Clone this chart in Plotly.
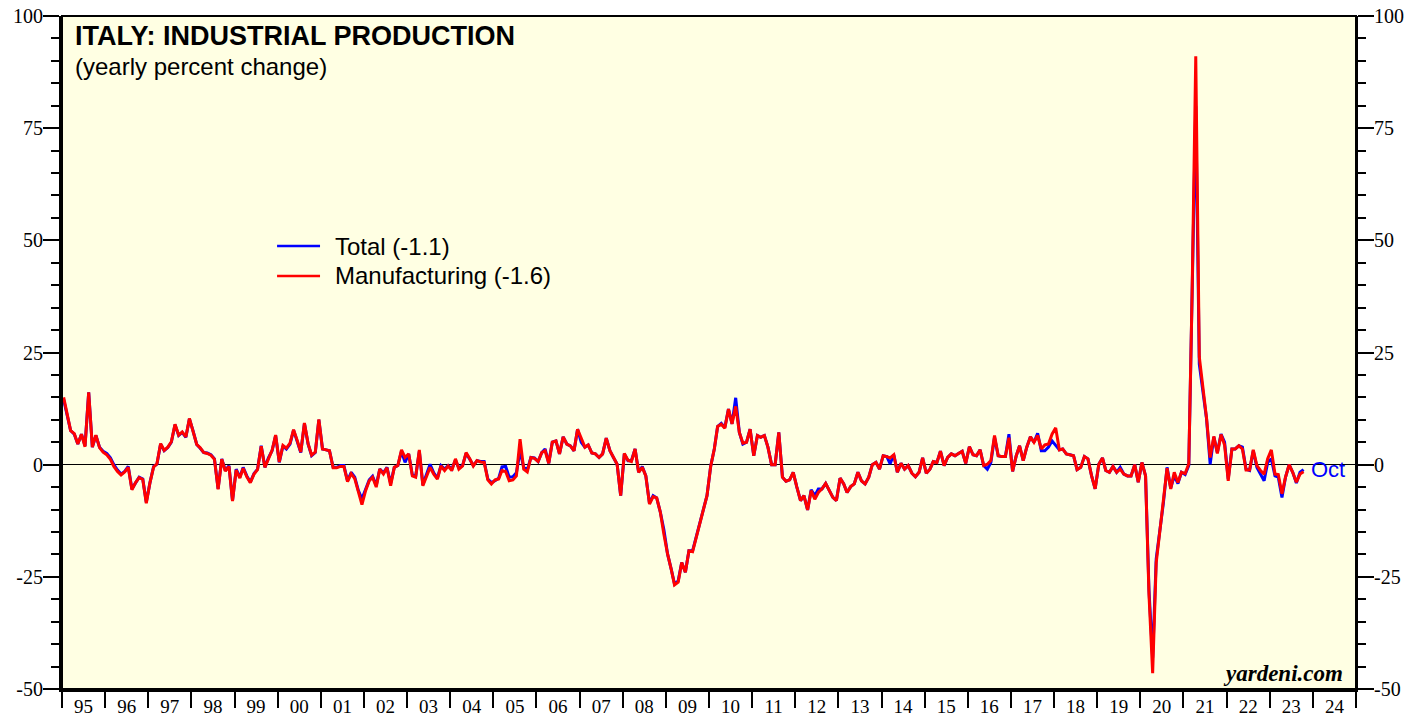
import pandas as pd
import plotly.graph_objects as go

# ---------------- data (yearly percent change, monthly, Jan 1995 - Oct 2023) -------------
total = [
    14.5, 10.5, 7.6, 6.8, 4.6, 6.8, 4.2, 16.1, 3.9, 6.5, 3.9, 3.0,        # 1995
    2.5, 1.5, 0.0, -1.2, -2.1, -1.5, -0.4, -5.4, -4.0, -2.8, -3.2, -8.4,   # 1996
    -4.0, -0.4, 0.1, 4.6, 3.1, 3.8, 5.0, 8.9, 6.5, 7.2, 6.1, 10.2,         # 1997
    7.5, 4.5, 3.7, 2.7, 2.6, 2.2, 1.3, -5.4, 1.3, -1.3, -0.2, -8.0,        # 1998
    -1.0, -2.8, -0.6, -2.5, -3.9, -2.0, -1.0, 4.2, -0.6, 1.5, 3.1, 6.5,    # 1999
    0.5, 4.2, 3.5, 4.6, 7.7, 5.3, 2.7, 9.2, 4.6, 2.0, 2.7, 10.0,           # 2000
    3.5, 3.3, 3.1, -0.6, -0.6, -0.2, -0.2, -3.6, -1.7, -2.8, -5.8, -7.6,   # 2001
    -5.5, -3.4, -2.6, -4.6, -1.0, -1.8, -0.6, -4.2, -0.6, -0.2, 3.0, 0.5,  # 2002
    2.4, -2.3, -2.6, 3.0, -4.5, -2.3, 0.1, -1.8, -3.0, -0.2, -1.0, -0.2,   # 2003
    -1.0, 1.0, -0.8, -0.2, 2.5, 1.2, -0.2, 0.9, 0.7, 0.7, -3.2, -4.0,      # 2004
    -3.6, -3.0, -0.5, -0.4, -2.8, -2.7, -1.8, 3.0, -0.6, -1.2, 1.6, 1.5,   # 2005
    0.7, 2.7, 3.5, 0.3, 5.0, 5.3, 2.4, 6.2, 4.6, 4.2, 3.1, 7.9,            # 2006
    5.0, 3.9, 4.4, 2.6, 2.4, 1.6, 2.4, 5.9, 3.1, 1.6, 0.1, -6.9,           # 2007
    2.4, 0.9, 0.9, 3.5, -1.7, -0.4, -2.5, -8.6, -6.9, -7.4, -10.6, -14.5,  # 2008
    -19.9, -23.3, -26.6, -25.9, -21.8, -24.0, -19.2, -19.2, -16.2, -13.2, -10.3, -6.9,  # 2009
    -0.4, 3.5, 8.5, 9.2, 8.3, 12.4, 9.1, 14.9, 7.2, 4.6, 5.0, 7.9,         # 2010
    2.0, 6.5, 6.1, 6.5, 3.9, 0.0, 0.0, 7.2, -2.8, -3.7, -3.4, -1.7,        # 2011
    -5.0, -8.0, -6.9, -10.1, -5.6, -6.9, -5.4, -5.4, -4.2, -5.8, -7.3, -8.0,  # 2012
    -3.0, -4.3, -6.2, -4.9, -4.3, -1.7, -3.6, -4.3, -2.8, 0.0, 0.5, -1.0,  # 2013
    2.0, 1.8, 0.2, 2.2, -1.7, 0.3, -1.0, -0.2, -1.9, -2.7, -1.7, 1.5,      # 2014
    -1.9, -1.0, 0.7, 0.5, 3.0, -0.2, 1.6, 2.4, 2.0, 2.5, 3.0, 0.3,         # 2015
    4.0, 2.2, 2.0, 3.3, -0.2, -1.0, 0.5, 6.1, 2.0, 1.8, 1.8, 6.8,          # 2016
    -1.5, 2.0, 4.2, 0.9, 3.9, 6.2, 5.0, 7.0, 3.1, 3.1, 3.9, 5.3,           # 2017
    4.2, 3.3, 3.5, 2.4, 2.2, 2.0, -1.1, -0.6, 1.8, 1.3, -2.5, -5.4,        # 2018
    0.1, 1.5, -1.3, -1.7, -0.4, -1.7, -0.6, -2.1, -2.5, -2.5, 0.0, -3.9,   # 2019
    0.5, -2.5, -28.0, -43.0, -21.0, -14.5, -8.5, -0.6, -5.2, -2.5, -4.2, -1.7,  # 2020
    -2.2, -0.2, 35.0, 80.0, 22.4, 16.0, 10.3, 0.1, 6.2, 2.7, 6.8, 5.0,     # 2021
    -3.2, 3.5, 3.5, 4.2, 3.9, -1.0, -1.3, 3.1, -0.6, -2.1, -3.6, 0.5,      # 2022
    1.3, -2.5, -2.8, -7.3, -2.8, 0.0, -1.7, -4.1, -1.7, -1.1,              # 2023
]

manufacturing = [
    15.0, 10.8, 7.6, 6.9, 4.6, 6.8, 4.0, 16.1, 3.9, 6.6, 3.8, 2.8,        # 1995
    2.2, 1.2, -0.4, -1.5, -2.3, -1.6, -0.6, -5.6, -4.0, -2.9, -3.3, -8.6,  # 1996
    -4.0, -0.5, 0.2, 4.7, 3.2, 3.9, 5.1, 9.0, 6.6, 7.3, 6.2, 10.3,         # 1997
    7.6, 4.5, 3.8, 2.7, 2.5, 2.1, 1.2, -5.5, 1.2, -1.4, -0.4, -8.1,        # 1998
    -1.2, -3.0, -0.8, -2.7, -4.0, -2.1, -1.1, 4.1, -0.6, 1.5, 3.2, 6.6,    # 1999
    0.6, 4.3, 3.7, 4.8, 7.8, 5.4, 2.8, 9.3, 4.7, 2.1, 2.8, 10.1,           # 2000
    3.5, 3.3, 3.1, -0.7, -0.7, -0.4, -0.4, -3.8, -2.0, -3.1, -6.2, -8.9,   # 2001
    -5.8, -3.6, -2.8, -5.0, -1.0, -2.1, -0.7, -4.7, -0.6, -0.2, 3.3, 1.6,  # 2002
    2.4, -2.5, -2.8, 3.3, -4.7, -2.5, -0.6, -2.1, -3.2, -0.3, -1.3, -0.3,  # 2003
    -1.3, 1.3, -1.0, -0.3, 2.7, 1.3, -0.3, 0.9, 0.6, 0.5, -3.4, -4.3,      # 2004
    -3.4, -3.2, -1.3, -1.5, -3.6, -3.4, -2.5, 5.7, -1.0, -1.6, 1.6, 1.4,   # 2005
    0.7, 2.7, 3.1, 0.3, 5.0, 5.3, 2.4, 6.2, 4.6, 4.2, 3.1, 7.9,            # 2006
    5.7, 3.9, 4.4, 2.6, 2.4, 1.6, 2.4, 5.9, 3.1, 1.6, 0.1, -6.9,           # 2007
    2.5, 1.0, 0.7, 3.5, -1.7, -0.6, -2.5, -8.8, -7.1, -7.4, -10.6, -15.5,  # 2008
    -19.9, -23.3, -26.8, -26.2, -21.8, -24.0, -19.2, -19.4, -16.2, -13.2, -10.3, -6.9,  # 2009
    -0.4, 3.5, 8.5, 9.0, 8.1, 12.4, 9.1, 13.0, 7.2, 4.8, 5.0, 7.9,         # 2010
    2.0, 6.5, 6.1, 6.5, 3.9, 0.0, 0.0, 7.2, -2.8, -3.7, -3.4, -1.7,        # 2011
    -5.0, -8.0, -6.9, -10.1, -5.8, -7.7, -6.2, -5.4, -4.2, -5.8, -7.3, -8.0,  # 2012
    -3.0, -4.3, -6.2, -4.9, -4.3, -1.7, -3.6, -4.3, -2.8, 0.0, 0.5, -1.0,  # 2013
    2.0, 1.8, 1.5, 2.2, -1.7, 0.3, -1.0, -0.2, -1.9, -2.7, -1.7, 1.5,      # 2014
    -1.9, -1.0, 0.7, 0.5, 3.0, -0.2, 1.6, 2.4, 2.0, 2.5, 3.0, 0.3,         # 2015
    4.0, 2.2, 2.0, 3.3, -0.2, 0.1, 0.9, 6.5, 2.0, 1.8, 1.8, 6.0,           # 2016
    -1.5, 2.0, 4.2, 0.9, 3.9, 6.2, 5.0, 6.5, 3.5, 4.4, 4.6, 6.8,           # 2017
    8.2, 3.3, 3.5, 2.4, 2.2, 2.0, -1.1, -0.6, 1.8, 1.3, -2.5, -5.4,        # 2018
    0.1, 1.5, -1.3, -1.7, -0.4, -1.7, -1.0, -2.1, -2.5, -2.5, 0.0, -3.9,   # 2019
    0.5, -2.5, -29.0, -46.5, -21.9, -14.7, -8.7, -0.8, -5.4, -1.7, -4.0, -1.7,  # 2020
    -2.0, 0.2, 38.0, 91.0, 24.0, 17.0, 10.5, 1.6, 6.3, 2.5, 6.7, 4.4,      # 2021
    -3.6, 3.5, 3.5, 4.2, 3.5, -1.2, -1.2, 3.3, -0.2, -1.3, -2.1, 1.3,      # 2022
    3.3, -2.1, -2.2, -6.5, -2.8, 0.0, -1.7, -3.9, -2.1, -1.6,              # 2023
]

dates = pd.date_range("1995-01-01", periods=len(total), freq="MS") + pd.Timedelta(days=14)

y_tickvals = [-50, -25, 0, 25, 50, 75, 100]
y_ticktext = ["-50", "-25", "0", "25", "50", "75", "100"]

series_names = ["Total", "Manufacturing"]
series_colors = ["#0000FF", "#FF0000"]
last_total = total[-1]
last_manuf = manufacturing[-1]

# ---------------- figure ----------------
SERIF = "Liberation Serif, Times New Roman, serif"
SANS = "Liberation Sans, Arial, sans-serif"

fig = go.Figure()
fig.add_trace(go.Scatter(x=dates, y=total, mode="lines", name=series_names[0],
                         line=dict(color=series_colors[0], width=3), showlegend=False))
fig.add_trace(go.Scatter(x=dates, y=manufacturing, mode="lines", name=series_names[1],
                         line=dict(color=series_colors[1], width=3), showlegend=False))
# invisible trace to activate right axis
fig.add_trace(go.Scatter(x=dates, y=total, mode="lines", yaxis="y2", opacity=0,
                         hoverinfo="skip", showlegend=False, line=dict(width=0)))

yax_common = dict(
    range=[-50, 100], tickmode="array", tickvals=y_tickvals, ticktext=y_ticktext,
    ticks="outside", ticklen=16, tickwidth=1.5, tickcolor="black",
    tickfont=dict(family=SERIF, size=20, color="black"),
    ticklabeloverflow="allow", ticklabelstandoff=-4,
    showgrid=False, showline=True, linecolor="black", automargin=False,
    minor=dict(tickmode="linear", tick0=0, dtick=5, ticks="outside", ticklen=8,
               tickwidth=1.5, tickcolor="black", showgrid=False),
)

# page body adds an 8px offset; margins compensate so the plot sits at x 62-1356, y 16-689
fig.update_layout(
    width=1427, height=719,
    margin=dict(l=54, r=79, t=8, b=38, autoexpand=False),
    paper_bgcolor="white",
    plot_bgcolor="#FFFFE3",
    showlegend=False,
    xaxis=dict(
        type="date", range=["1995-01-01", "2025-01-01"],
        tickmode="linear", tick0="1995-01-01", dtick="M12", tickformat="%y",
        ticklabelmode="period", ticks="outside", ticklen=16, tickwidth=2,
        tickcolor="black", ticklabelstandoff=-18, automargin=False,
        ticklabeloverflow="allow",
        tickfont=dict(family=SERIF, size=19, color="black"),
        showgrid=False, showline=True, linecolor="black", linewidth=3,
        zeroline=False,
    ),
    yaxis=dict(**yax_common, side="left", linewidth=3,
               zeroline=True, zerolinecolor="black", zerolinewidth=1),
    yaxis2=dict(**yax_common, side="right", overlaying="y", linewidth=2,
                zeroline=False),
)

# frame
fig.add_shape(type="rect", xref="paper", yref="paper", x0=0, x1=1, y0=0, y1=1,
              line=dict(color="black", width=2), fillcolor="rgba(0,0,0,0)", layer="above")

# title
fig.add_annotation(text="<b>ITALY: INDUSTRIAL PRODUCTION</b>", xref="paper", yref="paper",
                   x=0.0085, y=0.9703, xanchor="left", yanchor="middle", showarrow=False,
                   font=dict(family=SANS, size=27, color="black"))
fig.add_annotation(text="(yearly percent change)", xref="paper", yref="paper",
                   x=0.0085, y=0.9257, xanchor="left", yanchor="middle", showarrow=False,
                   font=dict(family=SANS, size=24, color="black"))

# legend (manual)
leg_y = [0.6582, 0.6137]
labels = [f"{series_names[0]} ({last_total})", f"{series_names[1]} ({last_manuf})"]
for yy, col, lab in zip(leg_y, series_colors, labels):
    fig.add_shape(type="line", xref="paper", yref="paper", x0=0.1662, x1=0.1994,
                  y0=yy, y1=yy, line=dict(color=col, width=2.5))
    fig.add_annotation(text=lab, xref="paper", yref="paper", x=0.2098, y=yy,
                       xanchor="left", yanchor="middle", showarrow=False,
                       font=dict(family=SANS, size=24, color="black"))

# "Oct" end label
fig.add_annotation(text="Oct", x=dates[-1], y=last_total, xref="x", yref="y",
                   xanchor="left", yanchor="middle", xshift=5, showarrow=False,
                   font=dict(family=SANS, size=22, color=series_colors[0]))

# source
fig.add_annotation(text="<b><i>yardeni.com</i></b>", xref="paper", yref="paper",
                   x=0.9915, y=0.0223, xanchor="right", yanchor="middle", showarrow=False,
                   font=dict(family=SERIF, size=23, color="black"))

fig.write_html("out.html")
